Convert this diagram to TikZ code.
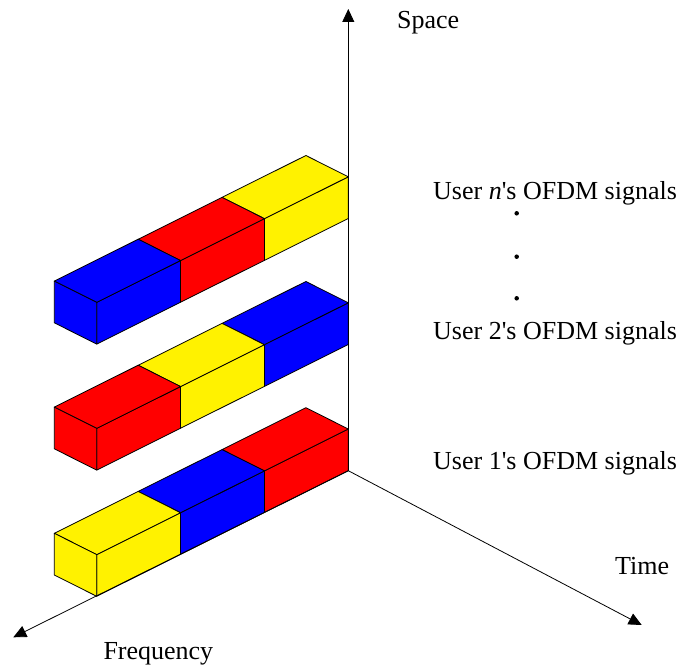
\documentclass[tikz,border=0pt]{standalone}
\usepackage{fontspec}
\setmainfont{Liberation Serif}
\usetikzlibrary{arrows.meta,calc}
\tikzset{
  axisline/.style={line width=0.8pt, -{Triangle[length=13pt,width=12pt]}},
  face/.style={draw=black, line width=0.8pt, line join=round},
  lbl/.style={anchor=base west, inner sep=0pt, font=\fontsize{26}{30}\selectfont},
  dotmark/.style={circle, fill=black, inner sep=0pt, minimum size=4.5pt},
}
\newcommand\ofdmblock[3]{%
  \path[face, fill=#3] ({#1},{#2}) -- ++(-83.87,41.87) -- ++(0,-41.7) -- ++(83.87,-41.87) -- cycle;
  \path[face, fill=#3] ({#1},{#2-41.7}) -- ++(-83.87,41.87) -- ++(-42.4,-21.3) -- ++(83.87,-41.87) -- cycle;
}
\newcommand\ofdmend[3]{%
  \path[face, fill=#3] ({#1-83.87},{#2+41.87}) -- ++(0,-41.7) -- ++(-42.4,-21.3) -- ++(0,41.7) -- cycle;
}
\begin{document}
\begin{tikzpicture}[x=1pt,y=-1pt]
\useasboundingbox (0,0) rectangle (688,666);
% bar 1 (top)
\ofdmblock{348.3}{218.5}{yellow}
\ofdmblock{264.43}{260.37}{red}
\ofdmblock{180.57}{302.23}{blue}
\ofdmend{180.57}{302.23}{blue}
% bar 2
\ofdmblock{348.3}{344.5}{blue}
\ofdmblock{264.43}{386.37}{yellow}
\ofdmblock{180.57}{428.23}{red}
\ofdmend{180.57}{428.23}{red}
% bar 3
\ofdmblock{348.3}{470.7}{red}
\ofdmblock{264.43}{512.57}{blue}
\ofdmblock{180.57}{554.43}{yellow}
\ofdmend{180.57}{554.43}{yellow}
% axes
\coordinate (O) at (348.3,470.7);
\coordinate (Stip) at (348.3,9);
\coordinate (Ftip) at (13.3,637.3);
\coordinate (Ttip) at (641.7,625);
\draw[axisline] (O) -- (Stip);
\draw[axisline] (O) -- (Ftip);
\draw[axisline] (O) -- (Ttip);
% labels
\node[lbl] (space) at (397,29) {Space};
\node[lbl] (time) at (615,574.3) {Time};
\node[lbl] (freq) at (103.3,659) {Frequency};
\node[lbl] (usern) at (433,199.3) {User \textit{n}\textquotesingle s OFDM signals};
\node[lbl] (user2) at (433,339.3) {User 2\textquotesingle s OFDM signals};
\node[lbl] (user1) at (433,469.3) {User 1\textquotesingle s OFDM signals};
\node[dotmark] (d1) at (516.7,213.3) {};
\node[dotmark] (d2) at (516.7,256.7) {};
\node[dotmark] (d3) at (516.7,298.3) {};
\end{tikzpicture}
\end{document}
